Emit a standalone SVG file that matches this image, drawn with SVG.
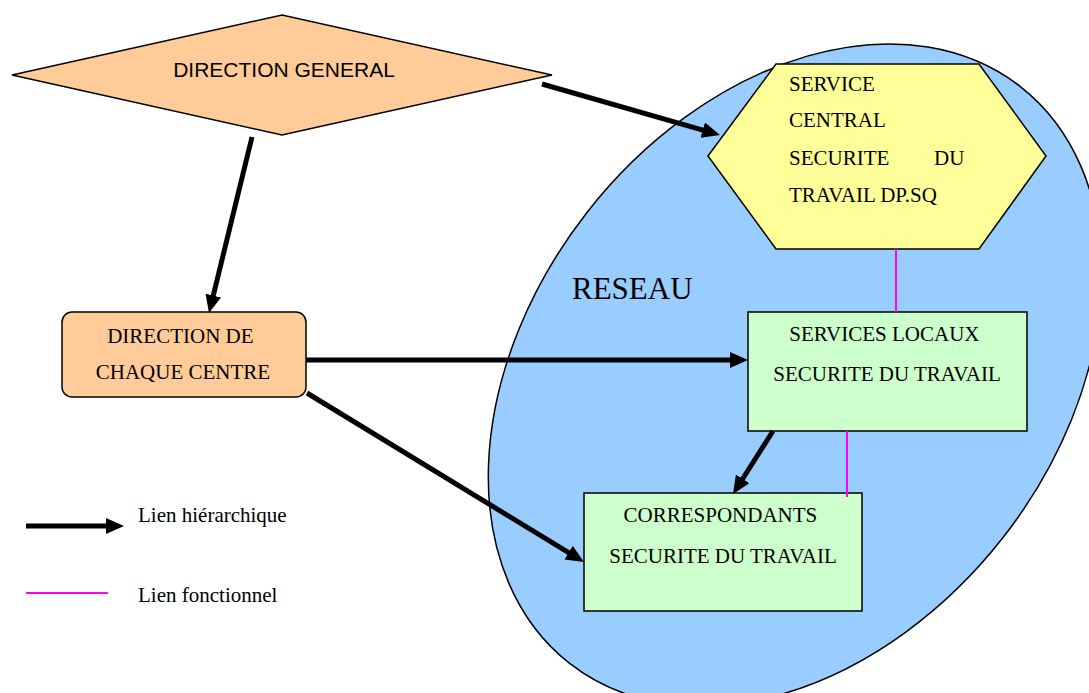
<svg xmlns="http://www.w3.org/2000/svg" width="1089" height="693" viewBox="0 0 1089 693">
<style>
.serif{font-family:"Liberation Serif","Times New Roman",serif;fill:#000}
.sans{font-family:"Liberation Sans",Arial,sans-serif;fill:#000}
.shape{stroke:#000;stroke-width:1.5}
.hier{stroke:#000;stroke-width:5;fill:none}
.func{stroke:#FF00FF;stroke-width:2;fill:none}
</style>
<defs>
<marker id="ah" viewBox="0 0 18 16" refX="2" refY="8" markerWidth="18" markerHeight="16" markerUnits="userSpaceOnUse" orient="auto">
<path d="M0,0 L18,8 L0,16 z" fill="#000"/>
</marker>
</defs>
<rect width="1089" height="693" fill="#fff"/>
<g id="reseau">
<ellipse cx="795" cy="375" rx="366" ry="264" transform="rotate(-52 795 375)" fill="#99CCFF" class="shape"/>
<text x="572" y="299" class="serif" font-size="31">RESEAU</text>
</g>
<g id="direction-general">
<polygon points="12,75 282,15 552,75 282,135" fill="#FFCC99" class="shape"/>
<text x="284" y="77" class="sans" font-size="21" text-anchor="middle">DIRECTION GENERAL</text>
</g>
<g id="service-central">
<polygon points="708,156 776,64 979,64 1046,156 979,249 776,249" fill="#FFFF99" class="shape"/>
<text class="serif" font-size="21">
<tspan x="789" y="91">SERVICE</tspan>
<tspan x="789" y="127">CENTRAL</tspan>
<tspan x="789" y="165">SECURITE</tspan>
<tspan x="934" y="165">DU</tspan>
<tspan x="789" y="202">TRAVAIL DP.SQ</tspan>
</text>
</g>
<g id="direction-centre">
<rect x="62" y="312" width="244" height="85" rx="10" ry="10" fill="#FFCC99" class="shape"/>
<text class="serif" font-size="21" text-anchor="middle">
<tspan x="183" y="343">DIRECTION DE</tspan>
<tspan x="183" y="379">CHAQUE CENTRE</tspan>
</text>
</g>
<g id="services-locaux">
<rect x="748" y="312" width="279" height="119" fill="#CCFFCC" class="shape"/>
<text class="serif" font-size="21" text-anchor="middle">
<tspan x="887" y="341">SERVICES LOCAUX</tspan>
<tspan x="887" y="381">SECURITE DU TRAVAIL</tspan>
</text>
</g>
<g id="correspondants">
<rect x="584" y="493" width="278" height="118" fill="#CCFFCC" class="shape"/>
<text class="serif" font-size="21" text-anchor="middle">
<tspan x="723" y="522">CORRESPONDANTS</tspan>
<tspan x="723" y="563">SECURITE DU TRAVAIL</tspan>
</text>
</g>
<g id="connectors">
<line x1="252" y1="137" x2="212.8" y2="297.5" class="hier" marker-end="url(#ah)"/>
<line x1="542" y1="84" x2="704.6" y2="130.6" class="hier" marker-end="url(#ah)"/>
<line x1="306" y1="360" x2="732" y2="360" class="hier" marker-end="url(#ah)"/>
<line x1="307" y1="393" x2="570.3" y2="553.7" class="hier" marker-end="url(#ah)"/>
<line x1="773" y1="431" x2="741.6" y2="480.5" class="hier" marker-end="url(#ah)"/>
<line x1="896" y1="249" x2="896" y2="312" class="func"/>
<line x1="847" y1="431" x2="847" y2="497" class="func"/>
</g>
<g id="legend">
<line x1="26" y1="526" x2="108" y2="526" class="hier" stroke-width="6" marker-end="url(#ah)"/>
<text x="138" y="522" class="serif" font-size="21">Lien hiérarchique</text>
<line x1="26" y1="593" x2="108" y2="593" class="func"/>
<text x="138" y="602" class="serif" font-size="21">Lien fonctionnel</text>
</g>
</svg>
